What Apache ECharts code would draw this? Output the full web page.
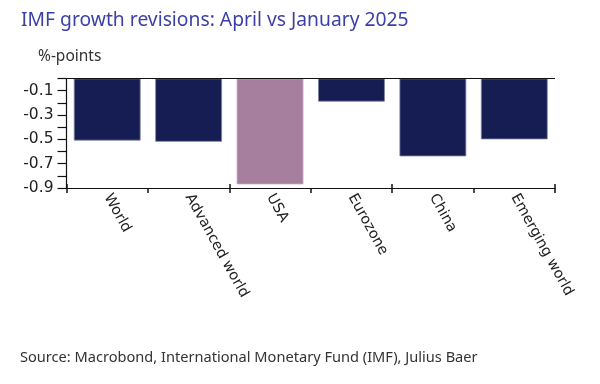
<!DOCTYPE html>
<html><head><meta charset="utf-8">
<script src="https://cdn.jsdelivr.net/npm/echarts@6/dist/echarts.min.js"></script>
<style>html,body{margin:0;padding:0;background:#fff}#c{width:600px;height:384px}</style>
</head><body><div id="c"></div>
<script>
const categories = ['World', 'Advanced world', 'USA', 'Eurozone', 'China', 'Emerging world'];
const revisions = [-0.51, -0.52, -0.87, -0.19, -0.64, -0.50];
const highlight = 'USA';
const yMin = -0.9, yMax = 0, yStep = 0.1;

const navy = '#151d52', mauve = '#a67f9f';
const gridBox = {left: 66.5, right: 45, top: 78.5, bottom: 196};
const chart = echarts.init(document.getElementById('c'), null, {renderer: 'canvas'});
chart.setOption({
  animation: false,
  backgroundColor: '#fff',
  title: [
    {text: 'IMF growth revisions: April vs January 2025', left: 16, top: 6,
     textStyle: {fontFamily: 'Noto Sans', fontSize: 19.3, fontWeight: 'normal', color: '#3b3fa6'}},
    {text: '%-points', left: 33, top: 44,
     textStyle: {fontFamily: 'Noto Sans', fontSize: 15.5, fontWeight: 'normal', color: '#333'}},
    {text: 'Source: Macrobond, International Monetary Fund (IMF), Julius Baer', left: 15, top: 345,
     textStyle: {fontFamily: 'Noto Sans', fontSize: 14.6, fontWeight: 'normal', color: '#333'}}
  ],
  grid: [Object.assign({}, gridBox), Object.assign({}, gridBox)],
  xAxis: [
    {type: 'category', data: categories, position: 'bottom', gridIndex: 0,
     axisLine: {onZero: false, lineStyle: {color: '#111', width: 1.2}},
     axisTick: {show: true, length: 5, lineStyle: {color: '#111', width: 1.5}},
     axisLabel: {rotate: -61, margin: 7, fontFamily: 'DejaVu Sans', fontSize: 14.5, color: '#222'}},
    {type: 'category', data: categories, position: 'bottom', gridIndex: 1,
     axisLine: {show: false, onZero: false},
     axisTick: {show: true, inside: true, length: 4, lineStyle: {color: '#111', width: 1.5}},
     axisLabel: {show: false}}
  ],
  yAxis: [{
    type: 'value', min: yMin, max: yMax, interval: yStep, gridIndex: 0,
    axisLine: {show: true, lineStyle: {color: '#111', width: 1.2}},
    axisTick: {show: true, length: 9, lineStyle: {color: '#111', width: 1.2}},
    splitLine: {show: false},
    axisLabel: {margin: 13, fontFamily: 'DejaVu Sans', fontSize: 15.5, color: '#222',
      formatter: v => { const k = Math.round(v * 10); return (k % 2 !== 0) ? (k / 10).toFixed(1) : ''; }}
  }, {
    type: 'value', min: yMin, max: yMax, interval: yStep, gridIndex: 1, show: false
  }],
  series: [{
    type: 'bar', xAxisIndex: 0, yAxisIndex: 0, barCategoryGap: '18%',
    data: categories.map((c, i) => ({value: revisions[i],
      itemStyle: {color: c === highlight ? mauve : navy, borderColor: c === highlight ? '#c4a8bf' : '#7c82a8', borderWidth: 0.8}})),
    markLine: {silent: true, symbol: 'none', label: {show: false},
      lineStyle: {color: '#111', width: 1.2, type: 'solid'},
      data: [{yAxis: yMax}]}
  }]
});
</script></body></html>
